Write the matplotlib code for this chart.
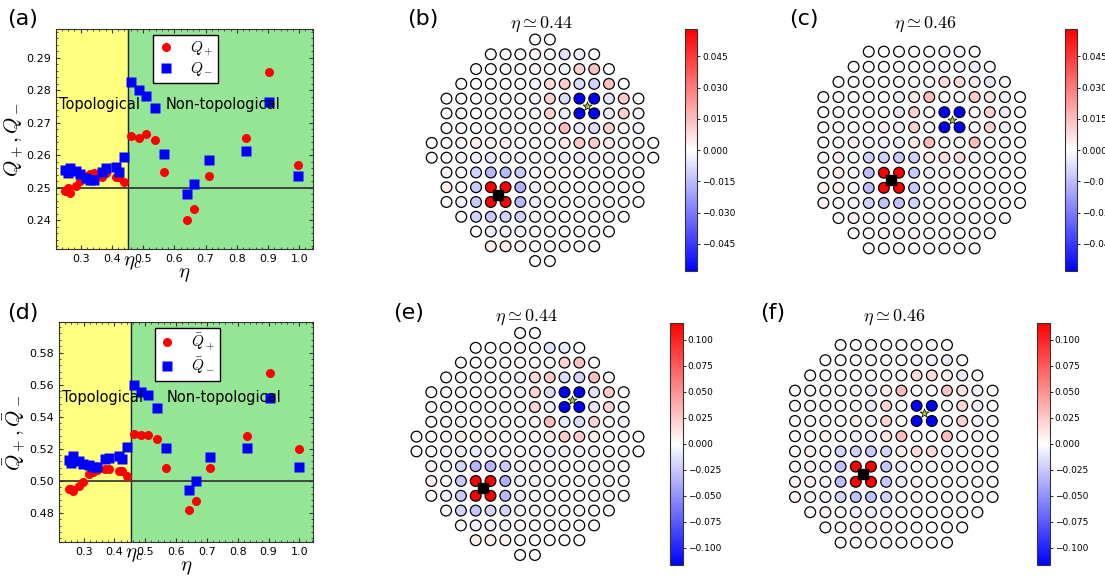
import matplotlib
matplotlib.use("Agg")
import matplotlib.pyplot as plt
from matplotlib.ticker import AutoMinorLocator, MultipleLocator
import matplotlib.transforms as mtransforms

plt.rcParams["mathtext.fontset"] = "cm"
plt.rcParams["font.family"] = ["DejaVu Sans"]

W, H = 1105, 577
ETA_C = 0.452

# eta values of the simulations
ETA = [0.251, 0.260, 0.267, 0.284, 0.297, 0.316, 0.331, 0.343, 0.369, 0.382,
       0.414, 0.424, 0.440,
       0.462, 0.486, 0.508, 0.537, 0.567, 0.642, 0.663, 0.710, 0.830, 0.904, 0.997]

Q_PLUS = [0.2491, 0.2501, 0.2484, 0.2506, 0.2521, 0.2537, 0.2542, 0.2545, 0.2535,
          0.2545, 0.2532, 0.2533, 0.2518,
          0.2659, 0.2653, 0.2665, 0.2647, 0.2550, 0.2400, 0.2435, 0.2538, 0.2652,
          0.2856, 0.2571]
Q_MINUS = [0.2555, 0.2545, 0.2561, 0.2553, 0.2543, 0.2530, 0.2525, 0.2525, 0.2550,
           0.2561, 0.2563, 0.2550, 0.2594,
           0.2825, 0.2801, 0.2783, 0.2747, 0.2603, 0.2482, 0.2511, 0.2585, 0.2615,
           0.2764, 0.2537]

QBAR_PLUS = [0.4948, 0.4950, 0.4935, 0.4967, 0.4990, 0.5040, 0.5056, 0.5065, 0.5073,
             0.5075, 0.5060, 0.5058, 0.5031,
             0.5290, 0.5283, 0.5288, 0.5260, 0.5081, 0.4817, 0.4875, 0.5077, 0.5279,
             0.5673, 0.5198]
QBAR_MINUS = [0.5129, 0.5112, 0.5154, 0.5125, 0.5104, 0.5098, 0.5083, 0.5088, 0.5133,
              0.5140, 0.5154, 0.5133, 0.5212,
              0.5600, 0.5556, 0.5533, 0.5452, 0.5206, 0.4942, 0.4998, 0.5148, 0.5202,
              0.5515, 0.5083]

# lattice charge maps, one list per row (top to bottom)
CHARGE_B = [
    [0, 0],
    [0, 0, 0, 0.002, 0, -0.006, -0.004, 0],
    [0, 0, 0, 0, 0.001, 0, -0.002, 0.010, 0.014, 0],
    [0, 0, 0, 0, 0, -0.002, 0.008, 0.012, -0.008, -0.010, 0.014, 0],
    [0, 0, 0, 0, 0, 0, -0.002, 0.010, -0.008, -0.06, -0.06, -0.006, 0.012, 0],
    [0, 0, 0, 0, 0, 0, -0.001, 0.010, -0.004, -0.06, -0.06, -0.004, 0.010, -0.002],
    [0, 0, 0, 0, 0, 0, -0.001, 0.002, 0.015, -0.005, -0.008, 0.010, 0, -0.003],
    [0, 0, 0.002, 0.004, 0.002, 0.003, 0, 0, 0.001, 0.005, 0.012, 0.012, 0.004, 0, 0, 0],
    [0, 0, -0.002, -0.004, -0.005, -0.003, -0.002, 0.001, -0.002, -0.004, -0.004, -0.003,
     -0.002, -0.001, 0, 0],
    [0.002, 0, -0.010, -0.016, -0.016, -0.012, -0.002, 0.002, 0.001, 0, 0, 0, 0, 0],
    [0.004, 0, -0.012, 0.06, 0.06, -0.018, -0.004, 0.002, 0, 0, 0, 0, 0, 0],
    [0, -0.003, -0.012, 0.06, 0.06, -0.016, -0.004, 0.001, 0, 0, 0, 0, 0, 0],
    [0, -0.010, -0.012, -0.010, -0.010, -0.002, 0.001, 0, 0, 0, 0, 0],
    [0, -0.004, -0.003, -0.002, 0.001, 0, 0, 0, 0, 0],
    [0.004, 0.004, 0.002, 0, 0, 0, 0, 0],
    [0, 0],
]

CHARGE_C = [
    [0, 0, 0, 0, 0, -0.001, -0.002, 0],
    [0, 0, 0, 0, 0, -0.001, -0.002, -0.003, -0.004, 0],
    [0, 0, 0, 0, 0, 0, -0.001, 0.008, 0.008, 0.004, -0.005, 0],
    [0, 0, 0, 0, 0, -0.003, 0.004, 0.015, 0, 0.001, 0.012, 0.006, -0.003, 0],
    [0, 0, 0, 0, 0, -0.005, 0.010, 0, -0.06, -0.06, 0, 0.010, -0.004, 0],
    [0, 0, 0, 0, 0.003, -0.003, 0.010, 0, -0.06, -0.06, 0, 0.010, -0.003, 0],
    [0, 0, 0.003, -0.002, -0.004, -0.004, 0.006, 0.015, 0, 0, 0.015, 0, -0.002, 0],
    [0, 0.003, 0, -0.010, -0.010, -0.012, -0.010, 0.004, 0.008, 0.008, -0.002, 0, 0, 0],
    [0, 0.003, -0.002, -0.015, 0.06, 0.06, -0.012, -0.004, 0, -0.002, 0, 0, 0, 0],
    [0.002, 0.003, -0.002, -0.015, 0.06, 0.06, -0.012, -0.004, 0.002, 0, 0, 0, 0, 0],
    [0.002, 0, -0.002, -0.010, -0.014, -0.014, -0.010, 0, 0.002, 0, 0, 0, 0, 0],
    [0, 0.003, 0, -0.003, -0.003, -0.002, 0, 0.001, 0, 0, 0, 0],
    [0, 0, 0.003, 0.002, 0.002, 0, 0, 0, 0, 0],
    [0, 0, 0, 0, 0, 0, 0, 0],
]

CHARGE_E = [
    [0, 0],
    [0, 0, 0, 0.003, 0, -0.012, -0.010, 0],
    [0, 0, 0, 0, 0.002, 0, -0.004, 0.020, 0.028, 0],
    [0, 0, 0, 0, 0, -0.004, 0.016, 0.024, -0.016, -0.020, 0.030, 0],
    [0, 0, 0, 0, 0, 0, -0.004, 0.020, -0.016, -0.12, -0.12, -0.014, 0.024, 0],
    [0, 0, 0, 0, 0, 0, -0.002, 0.020, -0.008, -0.12, -0.12, -0.010, 0.020, -0.004],
    [0, 0, 0, 0, 0, 0, -0.002, 0.004, 0.030, -0.010, -0.016, 0.020, 0, -0.006],
    [0, 0, 0.004, 0.008, 0.004, 0.006, 0, 0, 0.002, 0.010, 0.024, 0.024, 0.008, 0, 0, 0],
    [0, 0, -0.004, -0.008, -0.010, -0.006, -0.004, 0.002, -0.004, -0.008, -0.008, -0.006,
     -0.004, -0.002, 0, 0],
    [0.004, 0, -0.020, -0.034, -0.034, -0.024, -0.004, 0.004, 0.002, 0, 0, 0, 0, 0],
    [0.008, 0, -0.024, 0.12, 0.12, -0.036, -0.008, 0.004, 0, 0, 0, 0, 0, 0],
    [0, -0.006, -0.024, 0.12, 0.12, -0.032, -0.008, 0.002, 0, 0, 0, 0, 0, 0],
    [0, -0.020, -0.026, -0.020, -0.020, -0.004, 0.002, 0, 0, 0, 0, 0],
    [0, -0.008, -0.006, -0.004, 0.002, 0, 0, 0, 0, 0],
    [0.008, 0.006, 0.004, 0, 0, 0, 0, 0],
    [0, 0],
]

CHARGE_F = [
    [0, 0, 0, 0, 0, -0.002, -0.004, 0],
    [0, 0, 0, 0, 0, -0.002, -0.004, -0.006, -0.008, 0],
    [0, 0, 0, 0, 0, 0, -0.002, 0.016, 0.016, 0.008, -0.010, 0],
    [0, 0, 0, 0, 0, -0.006, 0.008, 0.030, 0, 0.002, 0.026, 0.012, -0.006, 0],
    [0, 0, 0, 0, 0, -0.010, 0.020, 0, -0.12, -0.12, 0, 0.020, -0.008, 0],
    [0, 0, 0, 0, 0.006, -0.006, 0.020, 0, -0.12, -0.12, 0, 0.020, -0.006, 0],
    [0, 0, 0.006, -0.004, -0.008, -0.008, 0.012, 0.030, 0, 0, 0.030, 0, -0.004, 0],
    [0, 0.006, 0, -0.020, -0.022, -0.024, -0.020, 0.008, 0.016, 0.016, -0.004, 0, 0, 0],
    [0, 0.006, -0.004, -0.030, 0.12, 0.12, -0.026, -0.008, 0, -0.004, 0, 0, 0, 0],
    [0.004, 0.006, -0.004, -0.030, 0.12, 0.12, -0.026, -0.008, 0.004, 0, 0, 0, 0, 0],
    [0.004, 0, -0.004, -0.020, -0.028, -0.028, -0.020, 0, 0.004, 0, 0, 0, 0, 0],
    [0, 0.006, 0, -0.006, -0.006, -0.004, 0, 0.002, 0, 0, 0, 0],
    [0, 0, 0.006, 0.004, 0.004, 0, 0, 0, 0, 0],
    [0, 0, 0, 0, 0, 0, 0, 0],
]

TICKS_SMALL = [-0.045, -0.030, -0.015, 0.0, 0.015, 0.030, 0.045]
TICKS_LARGE = [-0.100, -0.075, -0.050, -0.025, 0.0, 0.025, 0.050, 0.075, 0.100]


def px_axes(fig, x0, y0, x1, y1):
    # pixel box (top-left origin) -> figure axes
    return fig.add_axes([x0 / W, 1 - y1 / H, (x1 - x0) / W, (y1 - y0) / H])


def charge_panel(fig, ax, yp, ym, ylabel, lab_p, lab_m, ylim, ymajor, hline):
    ax.axvspan(0.2, ETA_C, color="#ffff80", zorder=0)
    ax.axvspan(ETA_C, 1.1, color="#94e694", zorder=0)
    ax.axvline(ETA_C, color="#222222", lw=1.0, zorder=1)
    ax.axhline(hline, color="#3a3a3a", lw=1.3, zorder=1)
    ax.plot(ETA, yp, "o", color="red", mec="none", ms=6.5, label=lab_p, zorder=3)
    ax.plot(ETA, ym, "s", color="blue", mec="none", ms=6.5, label=lab_m, zorder=3)
    ax.set_xlim(0.22, 1.045)
    ax.set_ylim(*ylim)
    ax.xaxis.set_major_locator(MultipleLocator(0.1))
    ax.yaxis.set_major_locator(MultipleLocator(ymajor))
    ax.xaxis.set_minor_locator(AutoMinorLocator(5))
    ax.yaxis.set_minor_locator(AutoMinorLocator(5))
    ax.tick_params(which="both", direction="in", top=True, right=True,
                   labelsize=8, color="#333333")
    ax.tick_params(which="major", length=3)
    ax.tick_params(which="minor", length=1.5)
    for sp in ax.spines.values():
        sp.set_color("#333333")
    ax.set_xlabel(r"$\eta$", fontsize=15, labelpad=0)
    ax.set_ylabel(ylabel, fontsize=15, labelpad=0)
    trans = mtransforms.blended_transform_factory(ax.transData, ax.transAxes)
    ax.text(ETA_C + 0.012, -0.01, r"$\eta_c$", transform=trans, ha="center",
            va="top", fontsize=15)
    ax.text(0.012, 0.66, "Topological", transform=ax.transAxes, fontsize=10.5,
            va="center")
    ax.text(0.425, 0.66, "Non-topological", transform=ax.transAxes, fontsize=10.5,
            va="center")
    leg = ax.legend(loc="upper center", numpoints=1, fancybox=False,
                    edgecolor="black", framealpha=1, fontsize=11,
                    handlelength=1.0, handletextpad=1.1, borderpad=0.3,
                    labelspacing=0.15, borderaxespad=0.0,
                    bbox_to_anchor=(0.505, 0.975))
    leg.get_frame().set_linewidth(1.0)
    leg.set_zorder(5)


def lattice_panel(fig, values, cx, cy, s, vmax, cbar_box, ticks, red_c, blue_c):
    ax = px_axes(fig, cx - 9 * s, cy - 9 * s, cx + 9 * s, cy + 9 * s)
    ax.set_xlim(-9, 9)
    ax.set_ylim(-9, 9)
    ax.axis("off")
    nrows = len(values)
    xs, ys, cs = [], [], []
    for k, row in enumerate(values):
        n = len(row)
        for j, v in enumerate(row):
            xs.append(j - (n - 1) / 2)
            ys.append((nrows - 1) / 2 - k)
            cs.append(v)
    sc = ax.scatter(xs, ys, c=cs, cmap="bwr", vmin=-vmax, vmax=vmax, s=60,
                    edgecolors="black", linewidths=0.9, zorder=2)
    ax.scatter([red_c[0]], [red_c[1]], marker="s", color="black", s=44, zorder=3)
    ax.scatter([blue_c[0]], [blue_c[1]], marker="*", color="#9acd32",
               edgecolors="black", linewidths=0.5, s=45, zorder=3)
    cax = px_axes(fig, *cbar_box)
    cb = fig.colorbar(sc, cax=cax, ticks=ticks)
    cb.outline.set_linewidth(0.8)
    cb.outline.set_edgecolor("#333333")
    cax.tick_params(labelsize=6.5, length=2, width=0.6, pad=1.5)
    return ax


fig = plt.figure(figsize=(W / 100, H / 100), dpi=100)

ax_a = px_axes(fig, 55.7, 29.3, 313.3, 249.3)
charge_panel(fig, ax_a, Q_PLUS, Q_MINUS, r"$Q_+, Q_-$", r"$Q_+$", r"$Q_-$",
             (0.2311, 0.2988), 0.01, 0.25)

ax_d = px_axes(fig, 59.0, 322.3, 313.3, 542.3)
charge_panel(fig, ax_d, QBAR_PLUS, QBAR_MINUS, r"$\bar{Q}_+, \bar{Q}_-$",
             r"$\bar{Q}_+$", r"$\bar{Q}_-$", (0.4615, 0.599), 0.02, 0.50)

lattice_panel(fig, CHARGE_B, 542.5, 150.3, 14.77, 0.058,
              (685, 29.3, 697.3, 271), TICKS_SMALL, (-3, -3), (3, 3))
lattice_panel(fig, CHARGE_C, 921.7, 150.0, 15.13, 0.058,
              (1065, 29.3, 1076.7, 271), TICKS_SMALL, (-2, -2), (2, 2))
lattice_panel(fig, CHARGE_E, 527.5, 444.0, 14.8, 0.1166,
              (670, 322.7, 682.7, 565), TICKS_LARGE, (-3, -3), (3, 3))
lattice_panel(fig, CHARGE_F, 893.8, 443.8, 15.2, 0.1166,
              (1036.7, 322.7, 1050, 565), TICKS_LARGE, (-2, -2), (2, 2))

titles = [(541, 24, r"$\eta \simeq 0.44$"), (925, 24, r"$\eta \simeq 0.46$"),
          (526, 317, r"$\eta \simeq 0.44$"), (894, 317, r"$\eta \simeq 0.46$")]
for x, y, t in titles:
    fig.text(x / W, 1 - y / H, t, ha="center", va="center", fontsize=13)

labels = [(7, 19, "(a)"), (407, 19, "(b)"), (789, 19, "(c)"),
          (7, 313, "(d)"), (393, 313, "(e)"), (760, 313, "(f)")]
for x, y, t in labels:
    fig.text(x / W, 1 - y / H, t, ha="left", va="center", fontsize=16)

fig.savefig("out.png", dpi=100)
